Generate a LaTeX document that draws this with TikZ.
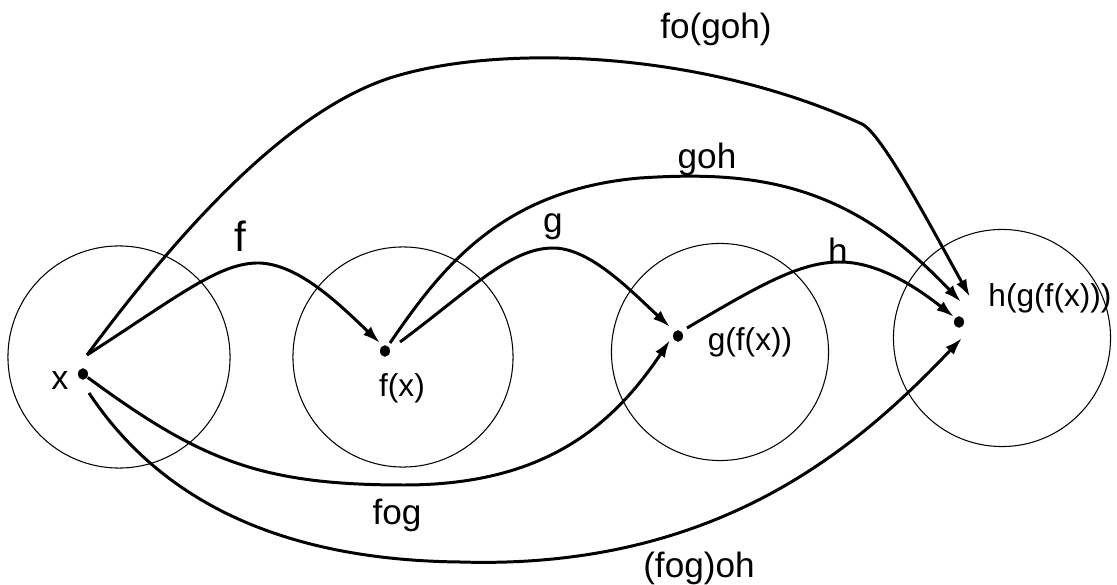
\documentclass[tikz,border=0pt]{standalone}
\usepackage{fontspec}
\setmainfont{Liberation Sans}
\usetikzlibrary{arrows.meta,shapes.geometric}

\begin{document}
\begin{tikzpicture}[x=0.01cm,y=-0.01cm,
	set/.style={draw,circle,line width=0.3pt,inner sep=0pt},
	dot/.style={ellipse,fill,inner sep=0pt,minimum width=0.1cm,minimum height=0.115cm},
	map/.style={line width=0.85pt,-{Latex[length=5pt,width=3.2pt]}},
	maplabel/.style={inner sep=0pt,font=\fontsize{10}{12}\selectfont},
	ptlabel/.style={inner sep=0pt,font=\fontsize{9}{11}\selectfont}]
	\useasboundingbox (0,0) rectangle (1117,585);

	% Sets
		\node[set,minimum size=2.22cm] (setx) at (119,357) {};
		\node[set,minimum size=2.2cm] (setfx) at (403,357) {};
		\node[set,minimum size=2.17cm] (setgfx) at (720,352) {};
		\node[set,minimum size=2.17cm] (sethgfx) at (1002,338) {};

	% Points
		\node[dot] (x) at (83,374) {};
		\node[dot] (fx) at (385,351) {};
		\node[dot] (gfx) at (678,336) {};
		\node[dot] (hgfx) at (959,322) {};

		\node[ptlabel,font=\fontsize{9.7}{11}\selectfont] (lblx) at (60,380) {x};
		\node[ptlabel] (lblfx) at (402,388) {f(x)};
		\node[ptlabel] (lblgfx) at (750,342) {g(f(x))};
		\node[ptlabel] (lblhgfx) at (1050,298) {h(g(f(x)))};

	% Ends of the maps
		\coordinate (xout1) at (87,355);
		\coordinate (xout2) at (89,393);
		\coordinate (fxout1) at (400,342);
		\coordinate (fxout2) at (390,343);
		\coordinate (gfxout) at (687,328);
		\coordinate (fxin) at (380,343);
		\coordinate (gfxin1) at (670,327);
		\coordinate (gfxin2) at (670,340);
		\coordinate (hgfxin1) at (970,297);
		\coordinate (hgfxin2) at (961,302);
		\coordinate (hgfxin3) at (954,317);
		\coordinate (hgfxin4) at (962,338);

	% f, g, h
		\draw[map] (xout1) .. controls (180,295) and (220,262) .. (260,263)
			.. controls (300,265) and (340,305) .. (fxin);
		\draw[map] (fxout1) .. controls (470,290) and (510,248) .. (553,248)
			.. controls (590,248) and (630,290) .. (gfxin1);
		\draw[map] (gfxout) .. controls (760,285) and (800,262) .. (840,262)
			.. controls (880,262) and (920,290) .. (hgfxin3);

		\node[maplabel,font=\fontsize{12}{14}\selectfont] (lblf) at (240,236) {f};
		\node[maplabel] (lblg) at (553,227) {g};
		\node[maplabel] (lblh) at (838,251) {h};

	% Compositions
		\draw[map] (fxout2) .. controls (440,270) and (500,190) .. (640,178)
			.. controls (760,170) and (850,185) .. (hgfxin2);
		\draw[map] (xout1) .. controls (165,250) and (280,112) .. (393,77)
			.. controls (500,44) and (700,50) .. (862,124)
			.. controls (882,134) and (930,225) .. (hgfxin1);
		\draw[map] (x) .. controls (200,460) and (260,485) .. (404,485)
			.. controls (540,485) and (610,430) .. (gfxin2);
		\draw[map] (xout2) .. controls (160,500) and (280,560) .. (460,562)
			.. controls (720,570) and (860,445) .. (hgfxin4);

		\node[maplabel] (lblgoh) at (707,159) {goh};
		\node[maplabel] (lblfogoh) at (716,29) {fo(goh)};
		\node[maplabel] (lblfog) at (397,515) {fog};
		\node[maplabel] (lblfogooh) at (699,568) {(fog)oh};
\end{tikzpicture}
\end{document}
